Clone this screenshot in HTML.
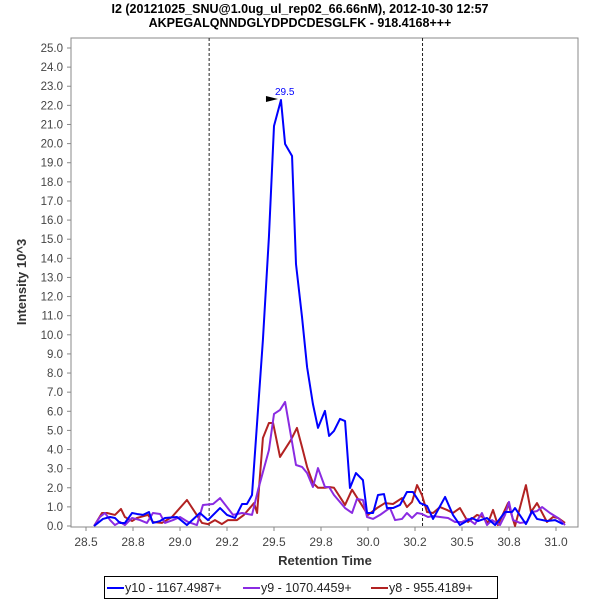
<!DOCTYPE html>
<html><head><meta charset="utf-8"><style>
body{margin:0;background:#fff;}
svg{display:block;font-family:"Liberation Sans",sans-serif;}
</style></head><body>
<svg id="chart" width="600" height="600">
<text x="300" y="13" text-anchor="middle" font-size="12.5" font-weight="bold" fill="#000">I2 (20121025_SNU@1.0ug_ul_rep02_66.66nM), 2012-10-30 12:57</text>
<text x="300" y="27" text-anchor="middle" font-size="12.5" font-weight="bold" fill="#000">AKPEGALQNNDGLYDPDCDESGLFK - 918.4168+++</text>
<rect x="71" y="38" width="507" height="489" fill="#fff" stroke="#888"/>
<g id="yaxis"></g>
<g id="xaxis"></g>
<g id="marks"></g>
<text transform="translate(26,282) rotate(-90)" text-anchor="middle" font-size="13" font-weight="bold" fill="#333">Intensity 10^3</text>
<text x="325" y="565" text-anchor="middle" font-size="13" font-weight="bold" fill="#333">Retention Time</text>
<g>
<rect x="104.5" y="576.5" width="393" height="22" fill="#fff" stroke="#000"/>
<g><line x1="107" y1="588" x2="124" y2="588" stroke="#0000ff" stroke-width="2"/><text x="125" y="592" font-size="12.5" fill="#222">y10 - 1167.4987+</text></g>
<g><line x1="243" y1="588" x2="260" y2="588" stroke="#8a2be2" stroke-width="2"/><text x="261" y="592" font-size="12.5" fill="#222">y9 - 1070.4459+</text></g>
<g><line x1="371" y1="588" x2="388" y2="588" stroke="#b22222" stroke-width="2"/><text x="389" y="592" font-size="12.5" fill="#222">y8 - 955.4189+</text></g>
</g>
</svg>
<script>
const xTicks=[28.5,28.75,29.0,29.25,29.5,29.75,30.0,30.25,30.5,30.75,31.0];
const xTickLabels=["28.5","28.8","29.0","29.2","29.5","29.8","30.0","30.2","30.5","30.8","31.0"];
const yTicks=[0,1,2,3,4,5,6,7,8,9,10,11,12,13,14,15,16,17,18,19,20,21,22,23,24,25];
const boundaryTimes=[29.155,30.29];
const peakTime=29.537, peakValue=22.28, peakLabel="29.5";
const y10Times=[28.543,28.590,28.628,28.654,28.681,28.707,28.745,28.771,28.803,28.835,28.856,28.894,28.920,28.984,29.037,29.106,29.149,29.213,29.250,29.293,29.330,29.356,29.383,29.441,29.473,29.500,29.537,29.559,29.596,29.617,29.649,29.676,29.707,29.734,29.771,29.793,29.819,29.851,29.878,29.904,29.936,29.973,29.995,30.027,30.053,30.085,30.101,30.133,30.170,30.207,30.239,30.277,30.314,30.346,30.410,30.452,30.489,30.553,30.585,30.633,30.676,30.729,30.766,30.782,30.840,30.872,30.899,30.952,30.995,31.037];
const y10Values=[0,0.37,0.47,0.42,0.16,0.16,0.68,0.63,0.58,0.73,0.16,0.26,0.42,0.47,0.05,0.68,0.31,0.94,0.58,0.42,1.15,1.15,1.62,9.73,15.12,20.92,22.28,19.98,19.35,13.70,10.93,8.31,6.38,5.13,6.02,4.71,4.97,5.60,5.49,1.99,2.77,2.40,0.68,0.68,1.62,1.67,0.94,0.94,1.10,1.78,1.78,1.20,1.05,0.37,1.52,0.58,0.05,0.42,0.26,0.42,0.05,0.73,0.73,0.94,0.10,0.78,0.37,0.26,0.31,0.10];
const y9Times=[28.543,28.574,28.601,28.628,28.654,28.681,28.707,28.745,28.787,28.824,28.856,28.894,28.920,28.963,29.000,29.043,29.090,29.122,29.176,29.213,29.250,29.282,29.330,29.383,29.415,29.473,29.500,29.532,29.559,29.617,29.649,29.676,29.707,29.734,29.771,29.793,29.819,29.878,29.915,29.941,29.973,29.995,30.027,30.064,30.101,30.117,30.144,30.181,30.207,30.234,30.261,30.287,30.319,30.346,30.383,30.426,30.463,30.500,30.532,30.569,30.606,30.633,30.660,30.702,30.729,30.750,30.771,30.809,30.846,30.872,30.899,30.926,30.968,31.011,31.048];
const y9Values=[0,0.47,0.68,0.31,0.05,0.21,0.05,0.42,0.31,0.16,0.68,0.63,0.16,0.31,0.47,0.21,0.05,1.10,1.15,1.46,0.99,0.58,0.68,0.58,1.88,3.97,5.86,6.07,6.49,3.19,3.09,2.77,2.04,3.03,2.04,2.04,1.62,0.94,0.68,1.41,1.36,0.47,0.37,0.58,0.84,0.94,0.31,0.37,0.68,0.42,0.68,0.63,0.47,0.52,0.47,0.42,0.21,0.21,0.37,0.10,0.68,0.05,0.31,0.05,0.58,1.26,0.31,0.16,0.21,0.73,0.78,0.99,0.68,0.42,0.05];
const y8Times=[28.543,28.585,28.612,28.654,28.686,28.707,28.745,28.771,28.830,28.856,28.904,28.957,29.037,29.117,29.149,29.186,29.223,29.255,29.303,29.340,29.394,29.410,29.441,29.473,29.495,29.532,29.590,29.622,29.649,29.676,29.707,29.734,29.771,29.793,29.819,29.878,29.915,30.000,30.048,30.090,30.133,30.181,30.207,30.234,30.261,30.287,30.314,30.346,30.383,30.420,30.452,30.489,30.532,30.580,30.612,30.638,30.665,30.691,30.745,30.782,30.840,30.867,30.899,30.952,30.984,31.011,31.048];
const y8Values=[0,0.68,0.68,0.58,0.89,0.47,0.26,0.42,0.58,0.21,0.16,0.47,1.36,0.16,0.10,0.31,0.10,0.31,0.31,0.58,1.20,0.68,4.60,5.39,5.39,3.61,4.50,5.13,4.13,3.09,2.25,2.00,2.00,2.04,2.00,1.10,1.90,0.58,0.94,1.20,1.15,1.46,0.99,1.26,2.14,1.62,0.73,0.68,0.99,0.84,0.68,0.94,0.21,0.58,0.47,0.16,0.84,0.05,1.20,0,2.14,0.73,1.20,0.21,0.47,0.42,0.16];

const NS='http://www.w3.org/2000/svg';
function xs(t){return 86+(t-28.5)*188;}
function ys(v){return 526-v*19.12;}
function mk(tag,attrs,parent){const e=document.createElementNS(NS,tag);for(const k in attrs)e.setAttribute(k,attrs[k]);parent.appendChild(e);return e;}
const yaxis=document.getElementById('yaxis'),xaxis=document.getElementById('xaxis'),marks=document.getElementById('marks');
yTicks.forEach(v=>{
  const g=mk('g',{},yaxis);
  
  
  mk('line',{x1:67,x2:71,y1:ys(v),y2:ys(v),stroke:'#888'},g);
  const t=mk('text',{x:63,y:ys(v)+4,'text-anchor':'end','font-size':11.5,fill:'#444'},g);
  t.textContent=v.toFixed(1);
});
xTicks.forEach((v,i)=>{
  const g=mk('g',{},xaxis);
  
  
  mk('line',{x1:xs(v),x2:xs(v),y1:527,y2:531,stroke:'#888'},g);
  const t=mk('text',{x:xs(v),y:546,'text-anchor':'middle','font-size':12,fill:'#444'},g);
  t.textContent=xTickLabels[i];
});
boundaryTimes.forEach(b=>{
  const l=mk('line',{x1:xs(b),x2:xs(b),y1:38,y2:527,stroke:'#222','stroke-dasharray':'3,2'},marks);
  
  
});
function series(ts,vs,color,name){
  const p=mk('polyline',{points:ts.map((t,i)=>xs(t)+','+ys(vs[i])).join(' '),fill:'none',stroke:color,'stroke-width':2,'stroke-linejoin':'round'},marks);
  
  
}
series(y8Times,y8Values,'#b22222','series-y8');
series(y9Times,y9Values,'#8a2be2','series-y9');
series(y10Times,y10Values,'#0000ff','series-y10');
const px=xs(peakTime),py=ys(peakValue);
const ar=mk('polygon',{points:(px-15)+','+(py-4)+' '+(px-3)+','+(py-1)+' '+(px-15)+','+(py+2),fill:'#000'},marks);


const pl=mk('text',{x:px-6,y:py-5,'font-size':10,fill:'#0000ff'},marks);


pl.textContent=peakLabel;
</script>
</body></html>
